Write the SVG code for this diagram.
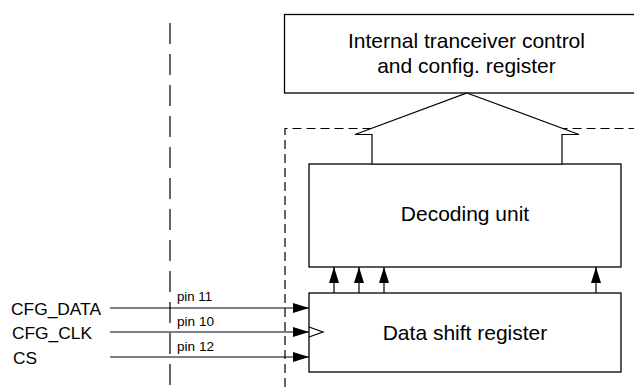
<svg xmlns="http://www.w3.org/2000/svg" width="634" height="387" viewBox="0 0 634 387">
<style>
.box{fill:#fff;stroke:#000;stroke-width:1.3}
.ln{fill:none;stroke:#000;stroke-width:1.2}
.dash{fill:none;stroke:#000;stroke-width:1.2;stroke-dasharray:9 5}
.dashL{fill:none;stroke:#000;stroke-width:1.2;stroke-dasharray:21 10}
.t{font-family:"Liberation Sans",Arial,sans-serif;fill:#000}
.big{font-size:21px;text-anchor:middle}
.lbl{font-size:16px}
.pin{font-size:12px}
</style>
<defs>
<marker id="arr" markerUnits="userSpaceOnUse" markerWidth="16" markerHeight="10" refX="16" refY="5" orient="auto">
<path d="M0,0 L16,5 L0,10 z" fill="#000"/>
</marker>
</defs>
<g id="boundaries">
<line class="dashL" x1="170" y1="23" x2="170" y2="387"/>
<path class="dash" d="M285,387 V128.5 H634"/>
</g>
<g id="register">
<rect class="box" x="284.5" y="14.5" width="400" height="78.5"/>
<text class="t big" x="466.5" y="48">Internal tranceiver control</text>
<text class="t big" x="466.5" y="73">and config. register</text>
</g>
<g id="decoding">
<rect class="box" x="309" y="164" width="312" height="103"/>
<text class="t big" x="465" y="221">Decoding unit</text>
</g>
<g id="shift">
<rect class="box" x="309" y="293" width="312" height="79"/>
<path class="ln" d="M309,327 L323,332 L309,337"/>
<text class="t big" x="465" y="340">Data shift register</text>
</g>
<g id="inputs">
<text class="t lbl" x="11" y="315" textLength="90" lengthAdjust="spacingAndGlyphs">CFG_DATA</text>
<text class="t lbl" x="12" y="339" textLength="80" lengthAdjust="spacingAndGlyphs">CFG_CLK</text>
<text class="t lbl" x="13" y="364" textLength="24" lengthAdjust="spacingAndGlyphs">CS</text>
<text class="t pin" x="177" y="301" textLength="35" lengthAdjust="spacingAndGlyphs">pin 11</text>
<text class="t pin" x="177" y="326" textLength="37" lengthAdjust="spacingAndGlyphs">pin 10</text>
<text class="t pin" x="177" y="351" textLength="37" lengthAdjust="spacingAndGlyphs">pin 12</text>
</g>
<g id="connectors">
<polygon points="467,93 579,134.5 562,134.5 562,164 372,164 372,134.5 355,134.5" fill="#fff" stroke="#000" stroke-width="1.2" stroke-linejoin="miter"/>
<line class="ln" x1="110" y1="308" x2="309" y2="308" marker-end="url(#arr)"/>
<line class="ln" x1="110" y1="332" x2="309" y2="332" marker-end="url(#arr)"/>
<line class="ln" x1="110" y1="357" x2="309" y2="357" marker-end="url(#arr)"/>
<line class="ln" x1="334" y1="293" x2="334" y2="267" marker-end="url(#arr)"/>
<line class="ln" x1="359" y1="293" x2="359" y2="267" marker-end="url(#arr)"/>
<line class="ln" x1="384" y1="293" x2="384" y2="267" marker-end="url(#arr)"/>
<line class="ln" x1="596" y1="293" x2="596" y2="267" marker-end="url(#arr)"/>
</g>
</svg>
